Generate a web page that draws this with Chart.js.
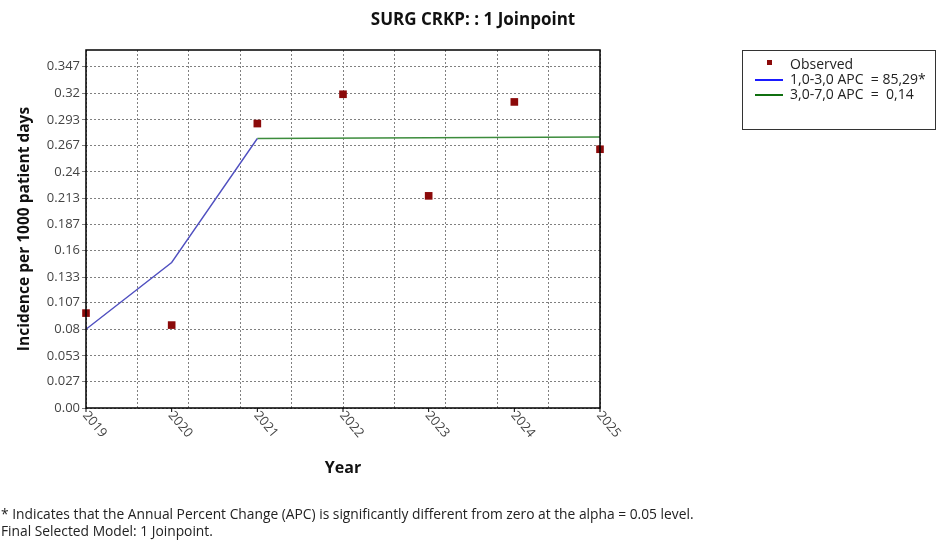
<!DOCTYPE html>
<html lang="en">
<head>
    <meta charset="UTF-8">
    <title>SURG CRKP Joinpoint</title>
    <script src="https://cdn.jsdelivr.net/npm/chart.js"></script>
    <style>
        body {
            margin: 0;
            background: #fff;
            font-family: 'Open Sans', sans-serif;
        }
        .wrap {
            position: relative;
            width: 936px;
            height: 540px;
        }
        .note {
            position: absolute;
            left: 1px;
            top: 505px;
            font-size: 13.8px;
            line-height: 17px;
            color: #222;
            white-space: nowrap;
        }
    </style>
</head>
<body>
    <div class="wrap">
        <canvas id="jpChart" width="936" height="540"></canvas>
        <div class="note">
            * Indicates that the Annual Percent Change (APC) is significantly different from zero at the alpha = 0.05 level.<br>
            Final Selected Model: 1 Joinpoint.
        </div>
    </div>

    <script>
        // data
        const years = [2019, 2020, 2021, 2022, 2023, 2024, 2025];
        const observed = [0.0965, 0.0843, 0.2892, 0.319, 0.2157, 0.3112, 0.2631];
        const seg1Years = [2019, 2020, 2021];
        const seg1Values = [0.080, 0.148, 0.274];
        const seg2Years = [2021, 2025];
        const seg2Values = [0.274, 0.2755];
        const yTicks = [0, 0.027, 0.053, 0.08, 0.107, 0.133, 0.16, 0.187, 0.213, 0.24, 0.267, 0.293, 0.32, 0.347];
        const xGrid = [2019, 2019.6, 2020.2, 2020.8, 2021.4, 2022, 2022.6, 2023.2, 2023.8, 2024.4, 2025];
        const legendLabels = ['Observed', '1,0-3,0 APC  = 85,29*', '3,0-7,0 APC  =  0,14'];
        const chartTitle = 'SURG CRKP: : 1 Joinpoint';

        const FONT = "'Open Sans', sans-serif";
        const pairs = (xs, ys) => xs.map((x, i) => ({ x: x, y: ys[i] }));

        // title, frame, year labels and legend box
        const extras = {
            id: 'extras',
            afterDatasetsDraw(chart) {
                const ctx = chart.ctx;
                const a = chart.chartArea;
                const xs = chart.scales.x;
                ctx.save();

                ctx.fillStyle = '#111';
                ctx.font = 'bold 17px ' + FONT;
                ctx.textAlign = 'center';
                ctx.textBaseline = 'middle';
                ctx.fillText(chartTitle, 473, 20);

                ctx.strokeStyle = '#000';
                ctx.lineWidth = 1.5;
                ctx.strokeRect(a.left, a.top, a.right - a.left, a.bottom - a.top);

                // year labels, turned clockwise
                ctx.fillStyle = '#444';
                ctx.font = '13px ' + FONT;
                ctx.textAlign = 'left';
                ctx.textBaseline = 'middle';
                years.forEach(y => {
                    const px = xs.getPixelForValue(y);
                    ctx.beginPath();
                    ctx.lineWidth = 1;
                    ctx.moveTo(px, a.bottom);
                    ctx.lineTo(px, a.bottom + 4);
                    ctx.stroke();
                    ctx.save();
                    ctx.translate(px - 1, a.bottom + 5);
                    ctx.rotate(50 * Math.PI / 180);
                    ctx.fillText(String(y), 0, 0);
                    ctx.restore();
                });

                // legend
                const lx = 742, ly = 50, lw = 193, lh = 79;
                ctx.strokeStyle = '#333';
                ctx.lineWidth = 1;
                ctx.strokeRect(lx + 0.5, ly + 0.5, lw, lh);
                ctx.font = '14px ' + FONT;
                chart.data.datasets.forEach((ds, i) => {
                    const cy = ly + 15 + i * 15;
                    if (i === 0) {
                        ctx.fillStyle = ds.backgroundColor;
                        ctx.fillRect(lx + 25, cy - 5, 5, 5);
                    } else {
                        ctx.strokeStyle = ds.legendColor;
                        ctx.lineWidth = 2;
                        ctx.beginPath();
                        ctx.moveTo(lx + 13, cy);
                        ctx.lineTo(lx + 41, cy);
                        ctx.stroke();
                    }
                    ctx.fillStyle = '#222';
                    ctx.fillText(ds.label, lx + 48, cy);
                });
                ctx.restore();
            }
        };

        new Chart(document.getElementById('jpChart'), {
            type: 'line',
            data: {
                datasets: [
                    {
                        label: legendLabels[0],
                        data: pairs(years, observed),
                        showLine: false,
                        pointStyle: 'rect',
                        pointRadius: 5.4,
                        backgroundColor: '#8b0a0a',
                        borderColor: '#8b0a0a',
                        borderWidth: 0
                    },
                    {
                        label: legendLabels[1],
                        data: pairs(seg1Years, seg1Values),
                        borderColor: '#5050c0',
                        legendColor: '#1a1aff',
                        borderWidth: 1.4,
                        pointRadius: 0
                    },
                    {
                        label: legendLabels[2],
                        data: pairs(seg2Years, seg2Values),
                        borderColor: '#3c8c3c',
                        legendColor: '#107010',
                        borderWidth: 1.6,
                        pointRadius: 0
                    }
                ]
            },
            options: {
                responsive: false,
                animation: false,
                clip: false,
                layout: { padding: { left: 10, right: 336, top: 50, bottom: 0 } },
                plugins: {
                    legend: { display: false },
                    tooltip: { enabled: false },
                    title: { display: false }
                },
                scales: {
                    x: {
                        type: 'linear',
                        min: 2019,
                        max: 2025,
                        afterBuildTicks: s => { s.ticks = xGrid.map(v => ({ value: v })); },
                        afterFit: s => { s.height = 132; },
                        ticks: { display: false },
                        grid: { color: '#808080', lineWidth: 1, drawTicks: false },
                        border: { display: false, dash: [2, 2] },
                        title: {
                            display: true,
                            text: 'Year',
                            color: '#111',
                            font: { family: FONT, size: 16, weight: 'bold', lineHeight: 1.2 },
                            padding: { top: 0, bottom: 62 }
                        }
                    },
                    y: {
                        min: 0,
                        max: 0.364,
                        afterBuildTicks: s => { s.ticks = yTicks.map(v => ({ value: v })); },
                        afterFit: s => { s.width = 76; },
                        ticks: {
                            color: '#444',
                            font: { family: FONT, size: 13 },
                            padding: 2,
                            callback: v => v === 0 ? '0.00' : String(v)
                        },
                        grid: { color: '#808080', lineWidth: 1, tickLength: 4 },
                        border: { display: false, dash: [2, 2] },
                        title: {
                            display: true,
                            text: 'Incidence per 1000 patient days',
                            color: '#111',
                            font: { family: FONT, size: 15.5, weight: 'bold', lineHeight: 1.2 },
                            padding: { top: 5, bottom: 0 }
                        }
                    }
                }
            },
            plugins: [extras]
        });
    </script>
</body>
</html>
